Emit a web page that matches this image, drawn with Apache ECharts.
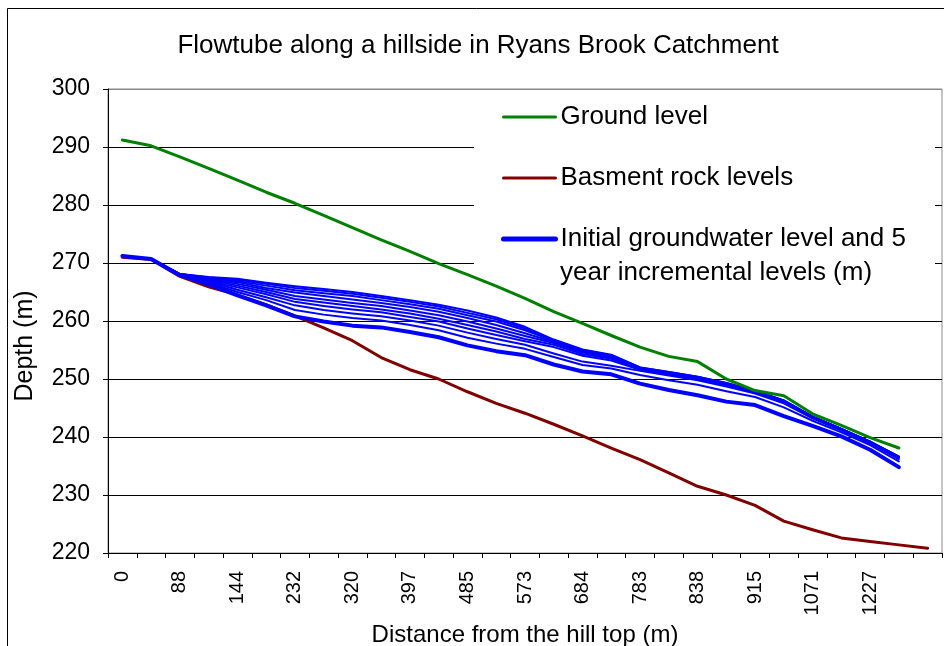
<!DOCTYPE html>
<html lang="en">
<head>
    <meta charset="UTF-8">
    <title>Flowtube along a hillside</title>
    <script src="https://cdn.jsdelivr.net/npm/echarts@6/dist/echarts.min.js"></script>
    <style>
        html, body { margin: 0; padding: 0; background: #fff; }
    </style>
</head>
<body>
<div id="main" style="width: 944px;height:646px;"></div>
<script type="text/javascript">
    // x axis: 29 categories, only every other one is labelled in the picture
    var tickLabels = ['0', '88', '144', '232', '320', '397', '485', '573', '684', '783', '838', '915', '1071', '1227'];
    var categories = [];
    for (var c = 0; c < 29; c++) categories.push('p' + c);

    var groundLevel = [291.2, 290.2, 288.3, 286.3, 284.3, 282.2, 280.3, 278.2, 276.1, 274.0,
        272.0, 269.9, 268.0, 266.0, 263.9, 261.6, 259.6, 257.5, 255.5, 253.9,
        253.0, 250.0, 248.0, 247.1, 244.0, 242.0, 239.9, 238.1, null];

    var rockLevel = [271.0, 270.6, 267.7, 265.9, 264.5, 262.8, 260.9, 258.8, 256.6, 253.7,
        251.6, 250.0, 247.8, 245.8, 244.1, 242.2, 240.2, 238.1, 236.1, 233.8,
        231.5, 230.0, 228.2, 225.5, 224.0, 222.6, 222.0, 221.4, 220.8];

    // groundwater: initial level, then one line every 5 years
    var gwInitial = [271.2, 270.7, 267.9, 266.3, 264.4, 262.7, 260.8, 259.9, 259.2, 258.9,
        258.1, 257.2, 255.8, 254.8, 254.1, 252.5, 251.3, 250.8, 249.2, 248.1,
        247.2, 246.1, 245.5, 243.6, 241.9, 240.1, 237.8, 234.8, null];
    var gwYear5 = [271.2, 270.7, 267.9, 266.6, 265.0, 263.6, 261.9, 261.1, 260.5, 260.1,
        259.3, 258.4, 257.1, 256.1, 255.2, 253.8, 252.4, 251.8, 250.7, 249.8,
        249.0, 247.9, 246.9, 245.1, 242.8, 240.8, 238.6, 235.8, null];
    var gwYear10 = [271.2, 270.7, 268.0, 266.8, 265.4, 264.1, 262.7, 261.9, 261.3, 260.8,
        260.1, 259.2, 258.0, 256.9, 255.9, 254.4, 253.0, 252.3, 251.4, 250.6,
        249.8, 248.7, 247.5, 245.8, 243.2, 241.1, 238.9, 236.2, null];
    var gwYear15 = [271.2, 270.7, 268.0, 266.9, 265.8, 264.6, 263.3, 262.6, 262.0, 261.5,
        260.7, 259.9, 258.7, 257.6, 256.5, 255.5, 254.0, 253.2, 251.6, 250.8,
        250.0, 248.9, 247.7, 246.0, 243.3, 241.2, 239.0, 236.4, null];
    var gwYear20 = [271.2, 270.7, 268.0, 267.1, 266.1, 265.0, 263.8, 263.2, 262.6, 262.0,
        261.3, 260.4, 259.3, 258.2, 256.9, 255.9, 254.3, 253.5, 251.8, 251.0,
        250.1, 249.0, 247.8, 246.1, 243.4, 241.3, 239.1, 236.5, null];
    var gwYear25 = [271.2, 270.7, 268.0, 267.2, 266.4, 265.4, 264.3, 263.7, 263.1, 262.6,
        261.8, 261.0, 259.9, 258.7, 257.4, 256.2, 254.6, 253.7, 251.9, 251.0,
        250.2, 249.1, 247.9, 246.2, 243.4, 241.3, 239.1, 236.5, null];
    var gwYear30 = [271.2, 270.7, 268.1, 267.3, 266.7, 265.7, 264.9, 264.3, 263.7, 263.1,
        262.4, 261.6, 260.5, 259.3, 257.9, 256.4, 254.8, 253.9, 251.9, 251.1,
        250.3, 249.2, 247.9, 246.2, 243.5, 241.4, 239.2, 236.5, null];
    var gwYear35 = [271.2, 270.7, 268.1, 267.4, 266.9, 266.1, 265.3, 264.8, 264.3, 263.6,
        262.9, 262.1, 261.0, 259.9, 258.4, 256.6, 254.9, 254.0, 251.9, 251.1,
        250.3, 249.2, 248.0, 246.2, 243.5, 241.4, 239.2, 236.6, null];
    var gwYear40 = [271.2, 270.7, 268.1, 267.5, 267.1, 266.4, 265.7, 265.2, 264.7, 264.0,
        263.3, 262.5, 261.4, 260.3, 258.7, 256.7, 255.0, 254.1, 252.0, 251.2,
        250.4, 249.3, 248.0, 246.3, 243.5, 241.4, 239.2, 236.6, null];
    var gwYear45 = [271.2, 270.7, 268.1, 267.6, 267.3, 266.6, 266.0, 265.5, 265.0, 264.3,
        263.6, 262.8, 261.8, 260.6, 259.0, 256.8, 255.1, 254.2, 252.0, 251.2,
        250.4, 249.3, 248.0, 246.3, 243.5, 241.4, 239.2, 236.6, null];

    var blueName = 'Initial groundwater level and 5 year incremental levels (m)';
    var laterLevels = [gwYear5, gwYear10, gwYear15, gwYear20, gwYear25, gwYear30, gwYear35, gwYear40, gwYear45];

    var font = "'Liberation Sans', Arial, sans-serif";
    var myChart = echarts.init(document.getElementById('main'));

    var series = [{
        name: 'Basment rock levels',
        type: 'line',
        data: rockLevel,
        symbol: 'none',
        color: '#800000',
        lineStyle: { width: 3, color: '#800000', cap: 'round', join: 'round' }
    }];
    laterLevels.forEach(function (d, k) {
        series.push({
            name: 'Year ' + ((k + 1) * 5),
            type: 'line',
            data: d,
            symbol: 'none',
            color: '#0000ff',
            lineStyle: { width: 2, color: '#0000ff', cap: 'round', join: 'round' }
        });
    });
    series.push({
        name: blueName,
        type: 'line',
        data: gwInitial,
        symbol: 'none',
        color: '#0000ff',
        lineStyle: { width: 4, color: '#0000ff', cap: 'round', join: 'round' }
    });
    series.push({
        name: 'Ground level',
        type: 'line',
        data: groundLevel,
        symbol: 'none',
        color: '#008000',
        lineStyle: { width: 3, color: '#008000', cap: 'round', join: 'round' }
    });

    myChart.setOption({
        animation: false,
        backgroundColor: '#fff',
        textStyle: { fontFamily: font, color: '#000' },
        title: {
            text: 'Flowtube along a hillside in Ryans Brook Catchment',
            left: 478,
            top: 33,
            textAlign: 'center',
            padding: 0,
            textStyle: { fontFamily: font, fontSize: 26, fontWeight: 'normal', color: '#000' }
        },
        legend: {
            data: [
                { name: 'Ground level', lineStyle: { width: 3, color: '#008000' } },
                { name: 'Basment rock levels', lineStyle: { width: 3, color: '#800000' } },
                { name: blueName, lineStyle: { width: 5, color: '#0000ff' } }
            ],
            orient: 'vertical',
            left: 501,
            top: 104,
            padding: 0,
            itemWidth: 52,
            itemHeight: 26,
            itemGap: 35,
            itemStyle: { color: 'rgba(0,0,0,0)', borderWidth: 0, opacity: 0 },
            formatter: function (name) {
                return name === blueName ? 'Initial groundwater level and 5' : name;
            },
            textStyle: { fontFamily: font, fontSize: 26, color: '#000' }
        },
        graphic: [{
            type: 'rect',
            z: 1,
            silent: true,
            shape: { x: 474, y: 91, width: 461, height: 190 },
            style: { fill: '#fff' }
        }, {
            type: 'text',
            z: 5,
            left: 560,
            top: 260,
            style: { text: 'year incremental levels (m)', font: '26px ' + font, fill: '#000' }
        }, {
            type: 'rect',
            z: 10,
            silent: true,
            shape: { x: 7.5, y: 8.5, width: 1000, height: 1000 },
            style: { fill: 'none', stroke: '#000', lineWidth: 1 }
        }],
        grid: {
            left: 108,
            right: 2,
            top: 89,
            bottom: 93,
            outerBoundsMode: 'none',
            containLabel: false,
            show: true,
            borderColor: '#888',
            borderWidth: 1,
            backgroundColor: 'transparent'
        },
        xAxis: {
            type: 'category',
            data: categories,
            boundaryGap: true,
            name: 'Distance from the hill top (m)',
            nameLocation: 'middle',
            nameGap: 62,
            nameTextStyle: { fontFamily: font, fontSize: 24, color: '#000' },
            axisLine: { lineStyle: { color: '#000', width: 1 } },
            axisTick: { show: true, interval: 0, length: 5, lineStyle: { color: '#000' } },
            axisLabel: {
                interval: 0,
                rotate: 90,
                margin: 18,
                fontFamily: font,
                fontSize: 20,
                color: '#000',
                formatter: function (v, i) {
                    return i % 2 === 0 && tickLabels[i / 2] !== undefined ? tickLabels[i / 2] : '';
                }
            },
            splitLine: { show: false }
        },
        yAxis: {
            type: 'value',
            min: 220,
            max: 300,
            interval: 10,
            name: 'Depth (m)',
            nameLocation: 'middle',
            nameGap: 70,
            nameTextStyle: { fontFamily: font, fontSize: 25, color: '#000', padding: [0, 50, 0, 0] },
            axisLine: { show: true, lineStyle: { color: '#000', width: 1 } },
            axisTick: { show: true, length: 5, lineStyle: { color: '#000' } },
            axisLabel: { margin: 18, fontFamily: font, fontSize: 23, color: '#000' },
            splitLine: {
                show: true,
                lineStyle: { color: ['#000', '#000', '#000', '#000', '#000', '#000', '#000', '#000', '#888'], width: 1 }
            }
        },
        series: series
    });
</script>
</body>
</html>
